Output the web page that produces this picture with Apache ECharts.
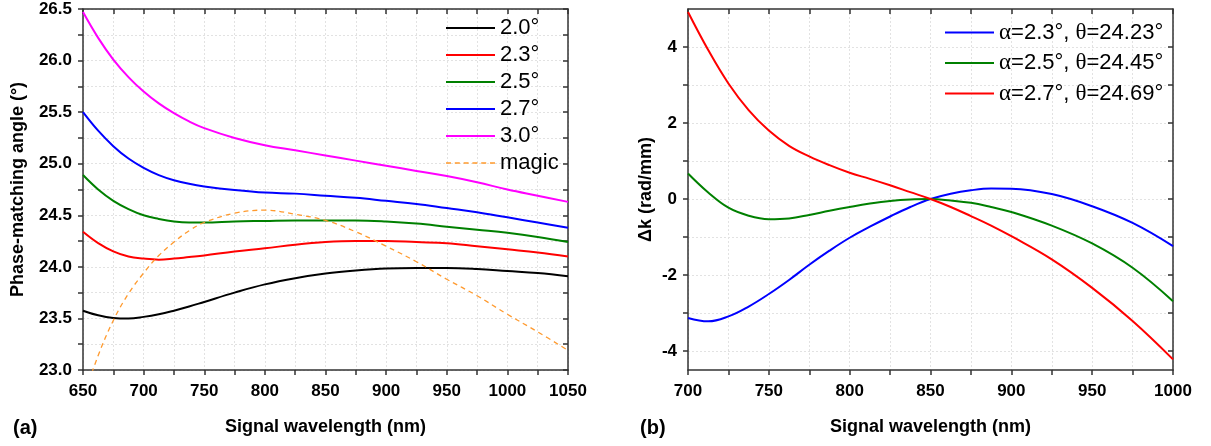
<!DOCTYPE html>
<html><head><meta charset="utf-8">
<script src="https://cdn.jsdelivr.net/npm/echarts@6/dist/echarts.min.js"></script>
<style>html,body{margin:0;padding:0;background:#fff}#c{width:1211px;height:446px}</style>
</head><body><div id="c"></div><script>
// ---------- Panel (a) data ----------
const wlA = [650,662.5,675,687.5,700,712.5,725,737.5,750,775,800,825,850,875,900,925,950,975,1000,1025,1050];
const a20 = [23.575,23.53,23.505,23.50,23.515,23.54,23.575,23.615,23.66,23.75,23.83,23.89,23.935,23.965,23.985,23.99,23.99,23.98,23.96,23.94,23.91];
const a23 = [24.34,24.23,24.15,24.10,24.08,24.07,24.08,24.095,24.11,24.15,24.18,24.215,24.24,24.25,24.25,24.24,24.23,24.20,24.17,24.14,24.10];
const a25 = [24.89,24.75,24.64,24.56,24.50,24.465,24.44,24.43,24.43,24.44,24.445,24.45,24.45,24.45,24.44,24.42,24.39,24.36,24.33,24.29,24.24];
const a27 = [25.50,25.32,25.17,25.05,24.96,24.89,24.84,24.805,24.78,24.745,24.72,24.71,24.69,24.67,24.64,24.61,24.57,24.53,24.48,24.43,24.38];
const a30 = [26.47,26.22,26.01,25.84,25.70,25.585,25.49,25.41,25.345,25.25,25.18,25.13,25.08,25.03,24.98,24.93,24.88,24.82,24.75,24.69,24.63];
const magic = [22.72,23.14,23.48,23.74,23.94,24.11,24.24,24.35,24.43,24.52,24.55,24.51,24.45,24.34,24.20,24.05,23.88,23.72,23.54,23.37,23.19];
const namesA = ['2.0°','2.3°','2.5°','2.7°','3.0°','magic'];
const colorsA = ['#000000','#ff0000','#008000','#0000ff','#ff00ff','#ff9a2e'];

// ---------- Panel (b) data ----------
const wlB = [700,712.5,725,737.5,750,762.5,775,787.5,800,812.5,825,837.5,850,862.5,875,887.5,900,925,950,975,1000];
const b23 = [-3.13,-3.22,-3.09,-2.83,-2.50,-2.13,-1.73,-1.36,-1.02,-0.73,-0.46,-0.21,0.00,0.14,0.23,0.275,0.27,0.13,-0.19,-0.63,-1.24];
const b25 = [0.67,0.17,-0.23,-0.44,-0.53,-0.51,-0.42,-0.31,-0.21,-0.12,-0.05,-0.01,0.00,-0.04,-0.10,-0.21,-0.34,-0.70,-1.17,-1.81,-2.69];
const b27 = [4.92,3.92,3.04,2.34,1.80,1.40,1.12,0.89,0.69,0.53,0.36,0.18,0.00,-0.21,-0.45,-0.70,-0.98,-1.59,-2.34,-3.21,-4.22];
const namesB = ['α=2.3°, θ=24.23°','α=2.5°, θ=24.45°','α=2.7°, θ=24.69°'];
const colorsB = ['#0000ff','#008000','#ff0000'];
const yTicksB = [-4,-3,-2,-1,0,1,2,3,4];
const yLabelsB = [-4,-2,0,2,4];

const FONT = 'Liberation Sans, Arial, sans-serif';
const axisColor = '#333333';
const grid = {show:true, lineStyle:{color:'#e2e2e2', type:[2,2], width:1}};
const lineStyle = {color:axisColor, width:1.5};
const lblStyle = {fontFamily:FONT, fontSize:17, fontWeight:'bold', color:'#000'};
const nameStyle = {fontFamily:FONT, fontSize:18, fontWeight:'bold', color:'#000'};
const dashIcon = 'path://M0,0h5v1.4h-5z M8.8,0h5v1.4h-5z M17.6,0h5v1.4h-5z M26.4,0h5v1.4h-5z M35.2,0h5v1.4h-5z M44,0h5v1.4h-5z';

function zip(x, y){ return x.map((v,i)=>[v,y[i]]); }
function bottomX(gi, min, max, name){
  return {type:'value', gridIndex:gi, position:'bottom', min, max, interval:25,
    axisLine:{onZero:false, lineStyle}, axisTick:{inside:false, length:5, lineStyle},
    axisLabel:{...lblStyle, margin:13, formatter:v=> (v%50===0? String(v):'')},
    splitLine:grid, name, nameLocation:'middle', nameGap:48, nameTextStyle:nameStyle};
}
function topX(gi, min, max){
  return {type:'value', gridIndex:gi, position:'top', min, max, interval:25,
    axisLine:{onZero:false, lineStyle}, axisTick:{inside:true, length:5, lineStyle},
    axisLabel:{show:false}, splitLine:{show:false}};
}

const series = [];
[a20,a23,a25,a27,a30,magic].forEach((d,i)=>{
  series.push({type:'line', name:namesA[i], xAxisIndex:0, yAxisIndex:0, data:zip(wlA,d),
    smooth:0.4, symbol:'none', clip:true,
    lineStyle:{color:colorsA[i], width: i===5?1.3:2, type: i===5?[5,4]:'solid'},
    itemStyle:{color:colorsA[i]}});
});
[b23,b25,b27].forEach((d,i)=>{
  series.push({type:'line', name:namesB[i], xAxisIndex:2, yAxisIndex:2, data:zip(wlB,d),
    smooth:0.4, symbol:'none', clip:true,
    lineStyle:{color:colorsB[i], width:2}, itemStyle:{color:colorsB[i]}});
});

const option = {
  animation:false,
  backgroundColor:'#fff',
  grid:[
    {left:83, top:9, width:485, height:361},
    {left:688, top:9, width:485, height:361}
  ],
  xAxis:[ bottomX(0,650,1050,'Signal wavelength (nm)'), topX(0,650,1050),
          bottomX(1,700,1000,'Signal wavelength (nm)'), topX(1,700,1000) ],
  yAxis:[
    {type:'value', gridIndex:0, position:'left', min:23, max:26.5, interval:0.25,
     axisLine:{onZero:false, lineStyle}, axisTick:{inside:false, length:5, lineStyle},
     axisLabel:{...lblStyle, margin:11, formatter:v=> (Math.abs(v*2-Math.round(v*2))<1e-6 ? v.toFixed(1):'')},
     splitLine:grid, name:'Phase-matching angle (°)', nameLocation:'middle', nameGap:56, nameTextStyle:nameStyle},
    {type:'value', gridIndex:0, position:'right', min:23, max:26.5, interval:0.25,
     axisLine:{onZero:false, lineStyle}, axisTick:{inside:true, length:5, lineStyle},
     axisLabel:{show:false}, splitLine:{show:false}},
    {type:'value', gridIndex:1, position:'left', min:-4.5, max:5,
     axisLine:{onZero:false, lineStyle}, axisTick:{inside:false, length:5, lineStyle, customValues:yTicksB},
     axisLabel:{...lblStyle, margin:11, customValues:yLabelsB},
     splitLine:grid, name:'Δk (rad/mm)', nameLocation:'middle', nameGap:33, nameTextStyle:nameStyle},
    {type:'value', gridIndex:1, position:'right', min:-4.5, max:5,
     axisLine:{onZero:false, lineStyle}, axisTick:{inside:true, length:5, lineStyle, customValues:yTicksB},
     axisLabel:{show:false}, splitLine:{show:false}}
  ],
  legend:[
    {orient:'vertical', left:446, top:17, padding:0, itemWidth:49, itemHeight:2, itemGap:5,
     data:namesA.map((n,i)=>({name:n, icon: i===5 ? dashIcon : 'rect'})), selectedMode:false,
     itemStyle:{borderWidth:0},
     textStyle:{fontFamily:FONT, fontSize:22, color:'#000'}},
    {orient:'vertical', left:945, top:21, padding:0, itemWidth:49, itemHeight:2, itemGap:7.5,
     data:namesB.map(n=>({name:n, icon:'rect'})), selectedMode:false,
     itemStyle:{borderWidth:0},
     formatter:n=>n.replace(/([αθ])/g,'{g|$1}'),
     textStyle:{fontFamily:FONT, fontSize:22, color:'#000',
       rich:{g:{fontFamily:'Liberation Serif, Times New Roman, serif', fontSize:23, color:'#000'}}}}
  ],
  graphic:[
    {type:'text', left:13, top:418, style:{text:'(a)', font:'bold 20px '+FONT, fill:'#000'}},
    {type:'text', left:640, top:418, style:{text:'(b)', font:'bold 20px '+FONT, fill:'#000'}}
  ],
  series
};
const chart = echarts.init(document.getElementById('c'), null, {renderer:'canvas'});
chart.setOption(option);
</script></body></html>
